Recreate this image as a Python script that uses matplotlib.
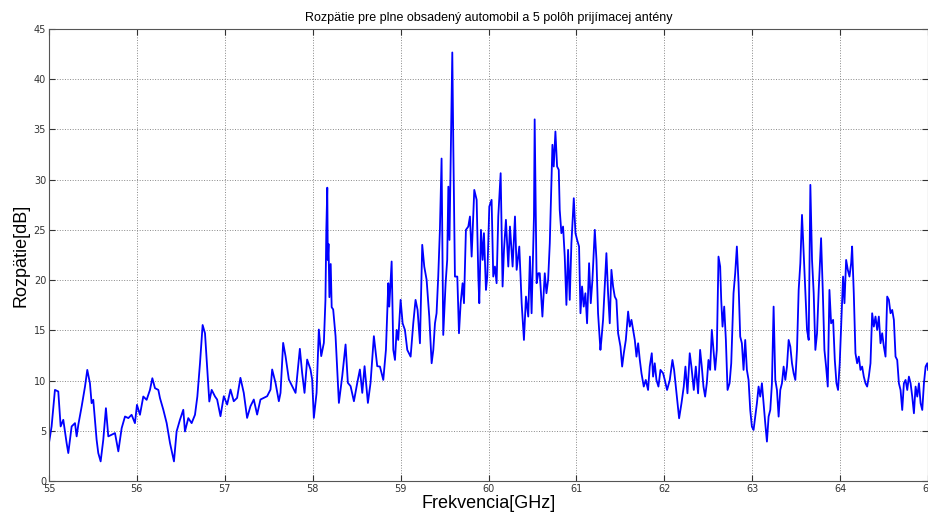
import numpy as np
import matplotlib
matplotlib.use('Agg')
import matplotlib.pyplot as plt

# frekvencia [GHz] a rozpatie [dB], odcitane z grafu
freq = [
    55.000, 55.030, 55.068, 55.106, 55.133, 55.163, 55.201, 55.220, 55.258, 55.296,
    55.315, 55.334, 55.372, 55.410, 55.436, 55.466, 55.485, 55.504, 55.542, 55.561,
    55.588, 55.618, 55.648, 55.675, 55.713, 55.751, 55.789, 55.827, 55.865, 55.903,
    55.940, 55.978, 56.001, 56.035, 56.073, 56.111, 56.149, 56.176, 56.206, 56.244,
    56.263, 56.301, 56.339, 56.377, 56.422, 56.452, 56.490, 56.528, 56.547, 56.585,
    56.623, 56.661, 56.688, 56.718, 56.748, 56.775, 56.794, 56.824, 56.851, 56.889,
    56.913, 56.951, 56.989, 57.027, 57.065, 57.102, 57.140, 57.178, 57.216, 57.254,
    57.292, 57.330, 57.368, 57.406, 57.444, 57.482, 57.520, 57.539, 57.577, 57.615,
    57.634, 57.664, 57.691, 57.729, 57.767, 57.805, 57.824, 57.854, 57.880, 57.907,
    57.937, 57.975, 57.994, 58.013, 58.044, 58.070, 58.097, 58.127, 58.145, 58.155,
    58.166, 58.172, 58.180, 58.190, 58.205, 58.216, 58.233, 58.260, 58.298, 58.336,
    58.374, 58.400, 58.431, 58.469, 58.507, 58.537, 58.564, 58.590, 58.628, 58.658,
    58.696, 58.734, 58.765, 58.803, 58.833, 58.860, 58.871, 58.898, 58.917, 58.936,
    58.955, 58.973, 59.000, 59.023, 59.049, 59.076, 59.114, 59.144, 59.170, 59.193,
    59.220, 59.246, 59.269, 59.296, 59.326, 59.353, 59.372, 59.391, 59.409, 59.428,
    59.447, 59.466, 59.485, 59.512, 59.530, 59.543, 59.556, 59.573, 59.588, 59.600,
    59.610, 59.618, 59.645, 59.664, 59.683, 59.705, 59.721, 59.743, 59.770, 59.789,
    59.808, 59.838, 59.865, 59.884, 59.895, 59.914, 59.933, 59.948, 59.971, 59.986,
    60.009, 60.035, 60.054, 60.073, 60.092, 60.111, 60.138, 60.160, 60.176, 60.198,
    60.225, 60.244, 60.274, 60.301, 60.320, 60.350, 60.377, 60.403, 60.426, 60.452,
    60.471, 60.490, 60.517, 60.525, 60.547, 60.566, 60.583, 60.613, 60.640, 60.659,
    60.678, 60.697, 60.716, 60.727, 60.742, 60.761, 60.780, 60.799, 60.810, 60.829,
    60.848, 60.867, 60.886, 60.905, 60.924, 60.943, 60.970, 60.989, 61.008, 61.030,
    61.046, 61.064, 61.083, 61.102, 61.121, 61.144, 61.163, 61.182, 61.209, 61.228,
    61.246, 61.273, 61.284, 61.303, 61.322, 61.341, 61.360, 61.379, 61.398, 61.417,
    61.436, 61.455, 61.474, 61.501, 61.520, 61.539, 61.562, 61.588, 61.607, 61.626,
    61.645, 61.664, 61.683, 61.702, 61.721, 61.740, 61.766, 61.789, 61.815, 61.834,
    61.857, 61.872, 61.891, 61.910, 61.933, 61.956, 61.986, 62.005, 62.031, 62.062,
    62.092, 62.111, 62.138, 62.168, 62.195, 62.221, 62.240, 62.263, 62.289, 62.308,
    62.335, 62.358, 62.384, 62.407, 62.426, 62.445, 62.464, 62.483, 62.502, 62.521,
    62.540, 62.559, 62.578, 62.597, 62.616, 62.635, 62.647, 62.662, 62.681, 62.700,
    62.719, 62.742, 62.761, 62.787, 62.806, 62.825, 62.844, 62.863, 62.882, 62.901,
    62.920, 62.939, 62.958, 62.977, 62.996, 63.015, 63.034, 63.053, 63.072, 63.091,
    63.110, 63.129, 63.148, 63.167, 63.186, 63.205, 63.224, 63.243, 63.262, 63.281,
    63.300, 63.319, 63.338, 63.357, 63.376, 63.395, 63.414, 63.433, 63.452, 63.471,
    63.490, 63.509, 63.528, 63.547, 63.566, 63.585, 63.604, 63.623, 63.642, 63.661,
    63.680, 63.699, 63.718, 63.737, 63.756, 63.783, 63.802, 63.821, 63.840, 63.859,
    63.878, 63.897, 63.920, 63.939, 63.958, 63.976, 63.995, 64.014, 64.033, 64.049,
    64.068, 64.087, 64.106, 64.125, 64.136, 64.155, 64.174, 64.193, 64.212, 64.231,
    64.250, 64.269, 64.288, 64.307, 64.326, 64.345, 64.364, 64.383, 64.402, 64.421,
    64.440, 64.459, 64.478, 64.497, 64.516, 64.535, 64.554, 64.573, 64.592, 64.611,
    64.630, 64.649, 64.668, 64.687, 64.706, 64.725, 64.744, 64.763, 64.782, 64.801,
    64.820, 64.839, 64.858, 64.877, 64.896, 64.915, 64.934, 64.953, 64.972, 64.991,
    65.000,
]
rozpatie = [
    3.77, 5.43, 9.07, 8.91, 5.43, 6.09, 3.77, 2.78, 5.43, 5.76,
    4.44, 5.60, 7.42, 9.40, 11.06, 9.74, 7.75, 8.08, 4.11, 2.78,
    1.95, 4.11, 7.25, 4.44, 4.60, 4.77, 2.95, 5.26, 6.42, 6.26,
    6.59, 5.76, 7.58, 6.59, 8.41, 8.08, 9.07, 10.23, 9.24, 9.07,
    8.25, 7.09, 5.76, 3.77, 1.95, 4.93, 6.09, 7.09, 4.93, 6.26,
    5.76, 6.59, 8.41, 11.72, 15.53, 14.70, 12.05, 7.91, 9.07, 8.41,
    8.11, 6.45, 8.44, 7.61, 9.10, 7.94, 8.27, 10.27, 8.77, 6.28,
    7.44, 8.11, 6.61, 8.11, 8.27, 8.44, 9.10, 11.10, 9.77, 7.94,
    8.77, 13.75, 12.43, 10.10, 9.44, 8.77, 10.43, 13.16, 10.76, 8.77,
    12.09, 11.10, 10.10, 6.28, 8.77, 15.08, 12.43, 13.75, 18.00, 25.00,
    29.20, 22.00, 23.60, 18.30, 21.60, 17.30, 17.08, 14.42, 7.77, 10.43,
    13.59, 9.77, 9.44, 7.94, 9.77, 11.10, 8.77, 11.43, 7.77, 9.77,
    14.42, 11.43, 11.39, 10.06, 13.05, 19.69, 17.36, 21.85, 13.05, 12.05,
    15.04, 14.04, 18.03, 15.70, 15.04, 13.05, 12.38, 15.70, 18.03, 17.03,
    13.71, 23.51, 21.35, 20.02, 16.37, 11.72, 13.05, 15.70, 16.70, 20.35,
    25.00, 32.10, 14.54, 19.69, 22.00, 29.30, 24.00, 34.30, 42.66, 33.00,
    26.00, 20.35, 20.35, 14.71, 17.70, 19.69, 17.70, 25.00, 25.33, 26.33,
    22.34, 28.98, 27.99, 20.35, 17.70, 25.00, 22.01, 24.67, 19.02, 20.35,
    27.32, 27.99, 20.35, 21.35, 19.69, 26.33, 30.64, 19.36, 23.01, 26.00,
    21.35, 25.33, 21.35, 26.33, 21.02, 23.34, 17.70, 14.04, 18.36, 16.37,
    22.34, 16.70, 26.33, 36.00, 19.69, 20.68, 20.68, 16.37, 20.68, 18.69,
    20.02, 23.67, 29.65, 33.47, 31.31, 34.79, 31.31, 30.98, 26.99, 24.67,
    25.33, 22.34, 17.53, 23.01, 18.03, 23.67, 28.15, 24.67, 24.00, 23.34,
    16.70, 19.36, 17.36, 18.69, 15.70, 21.68, 17.70, 20.02, 25.00, 22.01,
    16.70, 13.05, 14.04, 16.04, 19.36, 22.68, 18.69, 15.70, 21.02, 19.36,
    18.36, 18.03, 14.71, 13.38, 11.39, 12.72, 14.04, 16.87, 15.37, 16.04,
    15.04, 14.04, 12.38, 13.71, 12.05, 10.72, 9.40, 10.06, 9.06, 11.39,
    12.72, 10.39, 11.72, 10.06, 9.40, 11.06, 10.72, 10.06, 9.06, 10.06,
    12.05, 11.06, 8.73, 6.24, 7.74, 9.40, 11.39, 8.73, 12.72, 11.39,
    9.06, 11.39, 8.73, 13.05, 11.39, 9.40, 8.40, 9.73, 12.05, 11.06,
    15.04, 13.05, 11.06, 13.05, 22.34, 21.35, 18.03, 15.37, 17.36, 14.04,
    9.06, 9.73, 11.72, 18.69, 20.68, 23.34, 19.69, 14.38, 13.71, 11.06,
    14.04, 11.06, 10.06, 7.07, 5.41, 5.08, 6.41, 7.74, 9.40, 8.40,
    9.73, 7.74, 5.74, 3.92, 6.41, 7.07, 9.73, 17.36, 10.06, 9.06,
    6.41, 9.06, 9.73, 11.39, 10.06, 11.39, 14.04, 13.38, 11.72, 10.72,
    10.06, 13.05, 19.02, 21.68, 26.49, 22.68, 19.02, 15.04, 14.04, 29.48,
    22.01, 18.69, 13.05, 14.71, 19.02, 24.17, 19.02, 13.05, 11.39, 9.40,
    19.02, 15.70, 16.04, 12.05, 9.73, 9.06, 11.72, 16.04, 20.35, 17.70,
    22.01, 21.02, 20.35, 21.68, 23.34, 18.69, 12.72, 11.72, 12.38, 11.06,
    11.39, 10.39, 9.73, 9.40, 10.39, 11.72, 16.70, 15.37, 16.37, 15.04,
    16.37, 13.71, 14.71, 13.38, 12.38, 18.36, 18.03, 16.70, 17.03, 16.04,
    12.38, 12.05, 9.73, 9.06, 7.07, 9.73, 10.06, 9.06, 10.39, 9.73,
    8.40, 6.74, 9.40, 8.40, 9.73, 7.74, 7.07, 9.73, 11.39, 11.72,
    11.06,
]

x_ticks = np.arange(55, 66, 1)
y_ticks = np.arange(0, 50, 5)

fig = plt.figure(figsize=(9.29, 5.21), dpi=100, facecolor='w')
ax = fig.add_axes([0.0527, 0.0768, 0.9463, 0.8676])

ax.plot(freq, rozpatie, color='#0000ff', lw=1.3)

ax.set_xlim(55, 65)
ax.set_ylim(0, 45)
ax.set_xticks(x_ticks)
ax.set_yticks(y_ticks)
ax.tick_params(direction='in', top=True, right=True, labelsize=7,
               length=4, width=0.8, colors='#333333', pad=2)
ax.grid(True, linestyle=':', color='#888888', lw=0.7)
for s in ax.spines.values():
    s.set_color('#555555')
    s.set_linewidth(0.8)

ax.set_title(u'Rozpätie pre plne obsadený automobil a 5 polôh prijímacej antény',
             fontsize=9, family='Liberation Sans', pad=6)
ax.set_xlabel('Frekvencia[GHz]', fontsize=13, family='Liberation Sans', labelpad=1)
ax.set_ylabel(u'Rozpätie[dB]', fontsize=13, family='Liberation Sans', labelpad=3)

fig.savefig('out.png', dpi=100)
